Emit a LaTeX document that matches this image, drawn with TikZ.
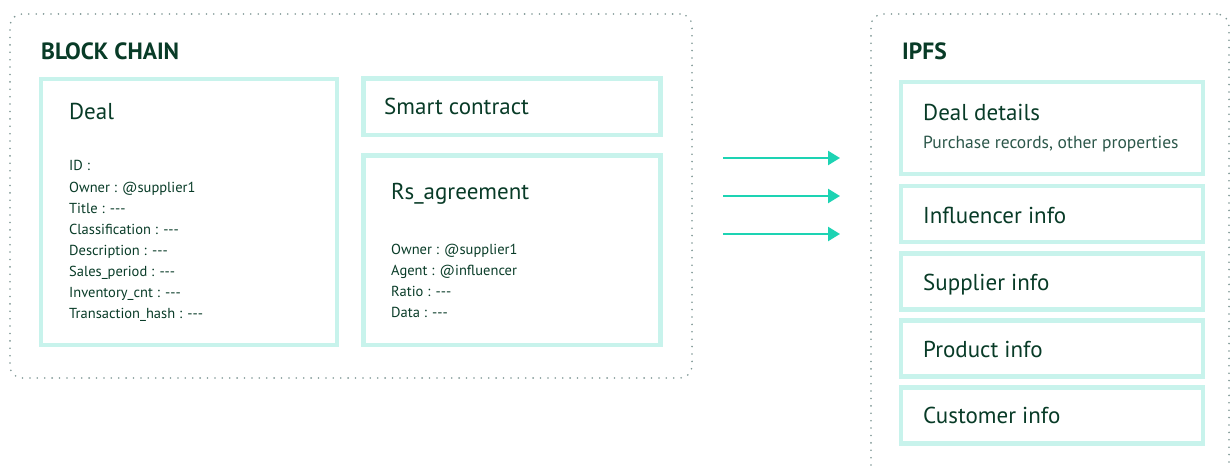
\documentclass[tikz,border=0pt]{standalone}
\usepackage{fontspec}
\setmainfont{PT Sans}
\usetikzlibrary{arrows.meta}
\definecolor{txt}{HTML}{083B27}
\definecolor{subtxt}{HTML}{2C574A}
\definecolor{boxline}{HTML}{C8F3EC}
\definecolor{arrowc}{HTML}{1DD3B3}
\definecolor{dotc}{HTML}{7F9795}
\newcommand{\tdsh}{-{}-{}-}
\tikzset{
  container/.style={draw=dotc, line width=1.8pt, line cap=round, dash pattern=on 0pt off 7.4pt, rounded corners=12pt, anchor=north west, inner sep=0pt, outer sep=0pt},
  infobox/.style={draw=boxline, line width=4.5pt, anchor=north west, inner sep=0pt, outer sep=0pt},
  lbl/.style={anchor=base west, inner sep=0pt, text=txt},
  titlefont/.style={lbl, font=\fontsize{23.5}{27}\selectfont\bfseries},
  headfont/.style={lbl, font=\fontsize{23}{27}\selectfont},
  smallfont/.style={lbl, font=\fontsize{14.5}{17}\selectfont},
  subfont/.style={lbl, text=subtxt, font=\fontsize{17.5}{20}\selectfont},
  flow/.style={draw=arrowc, line width=2.3pt, -{Triangle[length=12pt,width=14pt]}}
}
\begin{document}
\begin{tikzpicture}[x=1pt,y=-1pt]
\useasboundingbox (0,0) rectangle (1231,468);
\clip (0,0) rectangle (1231,468);
% containers
\node[container, minimum width=682pt, minimum height=364pt] (bc) at (10,14) {};
\node[container, minimum width=358pt, minimum height=520pt] (ipfs) at (871,14) {};
\node[titlefont] (bctitle) at (41,60) {BLOCK CHAIN};
\node[titlefont] (ipfstitle) at (902,60) {IPFS};
% block chain boxes
\node[infobox, minimum width=296pt, minimum height=266pt] (deal) at (41,79) {};
\node[infobox, minimum width=297pt, minimum height=56.5pt] (smart) at (363.5,78.5) {};
\node[infobox, minimum width=297pt, minimum height=189.5pt] (rs) at (363.5,155.5) {};
\node[headfont] (dealt) at (69,120) {Deal};
\node[headfont] (smartt) at (384,115) {Smart contract};
\node[headfont] (rst) at (391,199) {Rs\_agreement};
\foreach \t [count=\i] in {ID :, Owner : @supplier1, Title : \tdsh, Classification : \tdsh, Description : \tdsh, Sales\_period : \tdsh, Inventory\_cnt : \tdsh, Transaction\_hash : \tdsh}
  \node[smallfont] (deal\i) at (69,{171+21*(\i-1)}) {\t};
\foreach \t [count=\i] in {Owner : @supplier1, Agent : @influencer, Ratio : \tdsh, Data : \tdsh}
  \node[smallfont] (rs\i) at (391,{254+21*(\i-1)}) {\t};
% ipfs boxes
\node[infobox, minimum width=302pt, minimum height=92pt] (dd) at (901,82) {};
\node[infobox, minimum width=302pt, minimum height=56pt] (inf) at (901,186) {};
\node[infobox, minimum width=302pt, minimum height=56pt] (sup) at (901,253.5) {};
\node[infobox, minimum width=302pt, minimum height=56pt] (prod) at (901,320.5) {};
\node[infobox, minimum width=302pt, minimum height=56pt] (cust) at (901,387.5) {};
\node[headfont] (ddt) at (923,121) {Deal details};
\node[subfont] (dds) at (923,149) {Purchase records, other properties};
\node[headfont] (inft) at (923,223) {Influencer info};
\node[headfont] (supt) at (923,290) {Supplier info};
\node[headfont] (prodt) at (923,357) {Product info};
\node[headfont] (custt) at (923,423) {Customer info};
% arrows
\coordinate (a1s) at (723,158); \coordinate (a1e) at (840,158);
\coordinate (a2s) at (723,196); \coordinate (a2e) at (840,196);
\coordinate (a3s) at (723,234); \coordinate (a3e) at (840,234);
\draw[flow] (a1s) -- (a1e);
\draw[flow] (a2s) -- (a2e);
\draw[flow] (a3s) -- (a3e);
\end{tikzpicture}
\end{document}
